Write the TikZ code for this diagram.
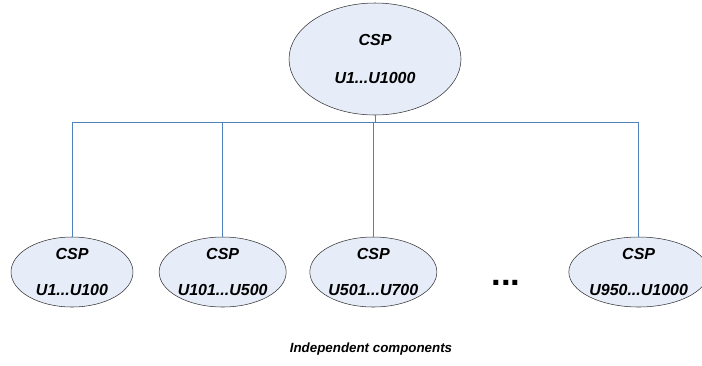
\documentclass[tikz,border=0pt]{standalone}
\usepackage{fontspec}
\setmainfont{Liberation Sans}
\usetikzlibrary{shapes.geometric}
\usetikzlibrary{positioning}
\definecolor{cspfill}{RGB}{230,236,248}
\definecolor{busblue}{RGB}{79,129,189}
\tikzset{
    x=0.75pt, y=-0.75pt,
    node distance=113pt,
    csp/.style={
        ellipse,
        draw=black!80,
        thin,
        fill=cspfill,
        inner sep=0pt,
        minimum width=91.5pt,
        minimum height=52.5pt,
        align=center,
        font=\fontsize{12}{14}\selectfont\bfseries\itshape
    },
    bigcsp/.style={
        csp,
        minimum width=129pt,
        minimum height=84pt
    },
    bus/.style={
        draw=busblue,
        line width=0.6pt
    }
}

\begin{document}
\begin{tikzpicture}
                    \useasboundingbox (0,0) rectangle (702,365);
                    \node[bigcsp] (top) at (375,59) {CSP\\[14pt]U1...U1000};
                    \node[csp] (u1) at (72,272) {CSP\\[13pt]U1...U100};
                    \node[csp, right of = u1] (u101) {CSP\\[13pt]U101...U500};
                    \node[csp, right of = u101] (u501) {CSP\\[13pt]U501...U700};
                    \node[csp, right of = u501, xshift=86pt] (u950) {CSP\\[13pt]U950...U1000};
                    \node[font=\fontsize{26}{30}\selectfont\bfseries] (dots) at (506,283) {...};
                    \node[font=\fontsize{10}{12}\selectfont\bfseries\itshape] (caption) at (371,349) {Independent components};

                    \coordinate (joint) at (top.south |- 0,122);
                    \draw[bus] (top.south) -- (joint);
                    \draw[bus] (joint) -| (u1.north);
                    \draw[bus] (joint) -| (u101.north);
                    \draw[bus] (joint) -| (u501.north);
                    \draw[bus] (joint) -| (u950.north);

                \end{tikzpicture}
\end{document}
